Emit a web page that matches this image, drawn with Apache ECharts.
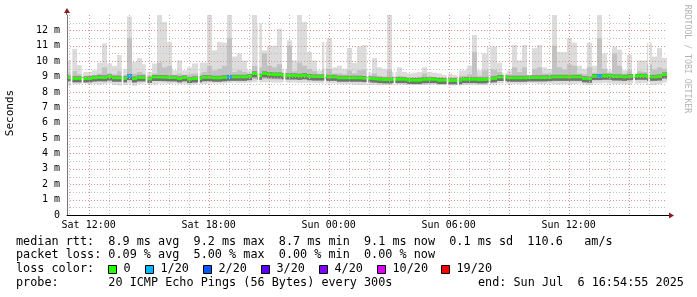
<!DOCTYPE html>
<html><head><meta charset="utf-8">
<script src="https://cdn.jsdelivr.net/npm/echarts@6/dist/echarts.min.js"></script>
<style>html,body{margin:0;padding:0;background:#fff}#c{width:697px;height:297px}</style>
</head><body><div id="c"></div>
<script>
// time in hours since Sat 00:00
const START_H = 10 + 55/60;      // Sat 10:55
const SPAN_H = 30;
const STEP_H = 0.25;             // 15 min buckets
const SAMPLE_H = 5/60;           // 300 s probe step

const medianRtt = [8.94,8.88,8.88,8.87,8.88,8.93,8.95,8.94,9.0,8.92,
 8.92,8.88,9.03,8.87,8.94,8.94,8.85,8.97,8.97,8.96,
 8.94,8.94,8.88,8.94,8.84,8.87,8.88,8.95,8.96,8.92,
 8.92,8.95,8.98,8.98,8.98,8.98,9.02,9.2,9.05,9.2,
 9.15,9.13,9.13,9.08,9.07,9.07,9.05,9.08,9.02,9.0,
 9.0,9.0,8.98,8.98,8.92,8.92,8.92,8.92,8.92,8.9,
 8.88,8.86,8.83,8.81,8.81,8.83,8.83,8.83,8.78,8.77,
 8.77,8.82,8.83,8.83,8.77,8.77,8.75,8.75,8.75,8.83,
 8.83,8.83,8.81,8.81,8.85,8.88,8.97,8.97,8.92,8.92,
 8.92,8.92,8.94,8.94,8.94,8.94,8.96,8.98,8.98,8.98,
 8.98,8.98,8.98,8.88,8.86,9.03,9.03,9.05,9.05,9.0,
 9.0,8.98,9.02,9.04,9.05,9.05,8.98,8.98,9.0,9.13];
const maxRtt = [10.05,10.8,9.75,9.3,9.3,9.4,9.9,11.15,9.85,9.7,
 10.4,9.5,12.9,9.95,10.2,9.8,9.3,9.85,13.0,12.55,
 11.25,9.4,10.05,9.4,9.6,9.85,9.9,9.9,13.0,10.7,
 11.25,11.2,13.0,10.3,10.5,10.05,9.4,13.0,12.45,10.7,
 11.0,11.0,12.1,9.5,11.35,10.05,13.0,12.55,10.6,10.05,
 9.4,11.25,11.5,9.6,9.7,9.5,10.85,9.9,10.95,11.05,
 9.25,10.2,9.6,9.5,13.0,9.3,9.6,9.3,9.2,9.25,
 9.3,9.6,9.3,9.25,9.2,9.1,9.2,9.1,9.4,9.4,
 9.7,11.7,9.4,10.5,10.95,10.95,9.9,9.25,9.4,11.05,
 10.05,11.05,9.1,10.85,11.05,9.6,9.5,13.0,10.6,10.6,
 11.5,11.2,9.7,9.5,11.2,9.7,13.0,10.5,9.4,10.95,
 10.75,9.4,10.4,9.1,10.05,10.05,11.2,10.3,10.85,10.2];
const hiRtt = [9.2,9.35,9.15,9.05,9.05,9.1,9.2,9.6,9.2,9.15,
 9.35,9.1,11.5,9.2,9.3,9.2,9.05,9.2,9.9,9.6,
 9.7,9.1,9.2,9.1,9.15,9.2,9.2,9.3,9.7,9.4,
 9.5,9.7,11.5,9.3,9.4,9.3,9.2,9.7,9.6,10.5,
 9.7,9.6,9.8,9.25,11.0,9.35,9.9,9.7,9.5,9.35,
 9.15,9.5,9.5,9.2,9.2,9.15,9.4,9.2,9.4,9.45,
 9.0,9.2,9.05,9.0,9.4,9.0,9.05,9.0,8.95,8.95,
 9.0,9.2,9.0,8.95,8.95,8.92,8.95,8.92,9.05,9.05,
 9.15,10.6,9.05,9.4,9.5,9.45,9.3,9.1,9.15,9.6,
 9.3,9.6,9.05,9.5,9.6,9.2,9.2,11.0,9.6,9.45,
 9.8,9.7,9.2,9.15,9.6,9.25,11.5,9.5,9.2,10.5,
 9.7,9.2,9.4,9.15,9.35,9.3,9.8,9.45,9.6,9.5];
const loRtt = [8.72,8.7,8.72,8.72,8.7,8.72,8.74,8.72,8.72,8.7,
 8.7,8.7,8.75,8.68,8.72,8.72,8.7,8.74,8.72,8.72,
 8.7,8.72,8.7,8.72,8.68,8.7,8.7,8.74,8.72,8.72,
 8.72,8.74,8.75,8.76,8.76,8.76,8.78,8.82,8.8,8.84,
 8.82,8.82,8.8,8.8,8.78,8.8,8.78,8.8,8.78,8.76,
 8.76,8.76,8.75,8.74,8.72,8.72,8.72,8.7,8.7,8.7,
 8.68,8.66,8.64,8.62,8.62,8.64,8.64,8.64,8.6,8.6,
 8.6,8.62,8.64,8.64,8.6,8.6,8.58,8.58,8.58,8.62,
 8.64,8.64,8.62,8.62,8.66,8.68,8.74,8.74,8.7,8.7,
 8.7,8.7,8.72,8.72,8.72,8.72,8.74,8.74,8.74,8.74,
 8.74,8.74,8.74,8.66,8.64,8.78,8.78,8.8,8.8,8.76,
 8.76,8.74,8.78,8.8,8.8,8.8,8.74,8.74,8.76,8.86];
const minRtt = [8.4,8.5,8.52,8.55,8.5,8.52,8.48,8.52,8.55,8.45,
 8.42,8.45,8.55,8.4,8.52,8.55,8.5,8.48,8.55,8.55,
 8.52,8.55,8.5,8.5,8.45,8.48,8.5,8.52,8.55,8.55,
 8.55,8.55,8.58,8.6,8.58,8.58,8.6,8.62,8.6,8.62,
 8.62,8.6,8.6,8.62,8.6,8.6,8.58,8.6,8.6,8.58,
 8.58,8.55,8.55,8.55,8.52,8.5,8.5,8.48,8.45,8.45,
 8.45,8.45,8.42,8.45,8.45,8.48,8.48,8.45,8.45,8.45,
 8.45,8.45,8.48,8.48,8.45,8.45,8.42,8.42,8.42,8.45,
 8.45,8.48,8.45,8.45,8.5,8.5,8.55,8.55,8.52,8.52,
 8.5,8.52,8.55,8.55,8.52,8.52,8.55,8.5,8.48,8.5,
 8.5,8.52,8.55,8.48,8.45,8.55,8.55,8.58,8.55,8.5,
 8.52,8.5,8.5,8.55,8.55,8.58,8.45,8.45,8.5,8.6];
const lossCount = [0,0,0,0,0,0,0,0,0,0, 0,0,1,0,0,0,0,0,0,0,
 0,0,0,0,0,0,0,0,0,0, 0,0,1,0,0,0,0,0,0,0,
 0,0,0,0,0,0,0,0,0,0, 0,0,0,0,0,0,0,0,0,0,
 0,0,0,0,0,0,0,0,0,0, 0,0,0,0,0,0,0,0,0,0,
 0,0,0,0,0,0,0,0,0,0, 0,0,0,0,0,0,0,0,0,0,
 0,0,0,0,0,0,1,0,0,0, 0,0,0,0,0,0,0,0,0,0];
// missing probe samples (hours since Sat 00:00)
const gapHours = [11.10,11.65,13.65,14.85,17.47,20.45,21.75,23.78,25.90,27.25,29.90,30.43,32.0,32.75,39.23,39.98];

const xLabelHours = [12,18,24,30,36];
const xLabelTexts = ['Sat 12:00','Sat 18:00','Sun 00:00','Sun 06:00','Sun 12:00'];
const yLabelValues = [0,1,2,3,4,5,6,7,8,9,10,11,12];
const yLabelTexts = ['0','1 m','2 m','3 m','4 m','5 m','6 m','7 m','8 m','9 m','10 m','11 m','12 m'];

const lossColors = ['#26ff00','#00b8ff','#0059ff','#5e00ff','#7e00ff','#dd00ff','#ff0000'];
const lossLabels = ['0','1/20','2/20','3/20','4/20','10/20','19/20'];
const lossThresh = [0,1,2,3,4,10,19];

const Y_MAX = 13;
const END_H = START_H + SPAN_H;
const majorX = [], minorX = [];
for (let h = Math.ceil(START_H); h <= END_H; h++) (h % 3 === 0 ? majorX : minorX).push(h);
const majorY = [1,2,3,4,5,6,7,8,9,10,11,12];
const minorY = majorY.map(v => v - 0.5).concat([12.5]);

function lossColor(n){ let c = lossColors[0]; lossThresh.forEach((t,k)=>{ if(n>=t) c = lossColors[k]; }); return c; }

const buckets = medianRtt.map((m,i)=>[START_H + i*STEP_H, minRtt[i], loRtt[i], m, hiRtt[i], maxRtt[i], lossCount[i]]);

const MONO = '"DejaVu Sans Mono", monospace';
const chart = echarts.init(document.getElementById('c'), null, {renderer:'canvas'});

function rect(x0, x1, ya, yb, fill){
  return {type:'rect', shape:{x:x0, y:Math.min(ya,yb), width:x1-x0, height:Math.abs(yb-ya)}, style:{fill:fill}};
}

const legendY = [241.5, 255, 269, 283];
const graphics = [
  {type:'text', x:10, y:113, rotation:Math.PI/2, style:{text:'Seconds', font:'11px '+MONO, fill:'#000', align:'center', verticalAlign:'middle'}},
  {type:'text', x:687, y:59, rotation:-Math.PI/2, style:{text:'RRDTOOL / TOBI OETIKER', font:'8.2px '+MONO, fill:'#b4b4b4', align:'center', verticalAlign:'middle'}},
  {type:'polygon', shape:{points:[[67,8],[64,13],[70,13]]}, style:{fill:'#8b1c1c'}},
  {type:'line', shape:{x1:66.5,y1:13,x2:66.5,y2:15}, style:{stroke:'#777'}},
  {type:'polygon', shape:{points:[[674,215.5],[669,212.5],[669,218.5]]}, style:{fill:'#8b1c1c'}},
  {type:'line', shape:{x1:667,y1:215.5,x2:669,y2:215.5}, style:{stroke:'#000'}},
  {type:'text', x:16, y:legendY[0], style:{text:'median rtt:  8.9 ms avg  9.2 ms max  8.7 ms min  9.1 ms now  0.1 ms sd  110.6   am/s', font:'11.8px '+MONO, fill:'#000', verticalAlign:'middle'}},
  {type:'text', x:16, y:legendY[1], style:{text:'packet loss: 0.09 % avg  5.00 % max  0.00 % min  0.00 % now', font:'11.8px '+MONO, fill:'#000', verticalAlign:'middle'}},
  {type:'text', x:16, y:legendY[2], style:{text:'loss color:', font:'11.8px '+MONO, fill:'#000', verticalAlign:'middle'}},
  {type:'text', x:16, y:legendY[3], style:{text:'probe:       20 ICMP Echo Pings (56 Bytes) every 300s', font:'11.8px '+MONO, fill:'#000', verticalAlign:'middle'}},
  {type:'text', x:478, y:legendY[3], style:{text:'end: Sun Jul  6 16:54:55 2025', font:'11.8px '+MONO, fill:'#000', verticalAlign:'middle'}}
];
const boxX = [108.5,145.5,203.5,261.5,319.5,377.5,441.5];
lossLabels.forEach((lab,k)=>{
  graphics.push({type:'rect', shape:{x:boxX[k], y:265.5, width:8, height:8}, style:{fill:lossColors[k], stroke:'#000', lineWidth:1}});
  graphics.push({type:'text', x:boxX[k]+15, y:legendY[2], style:{text:lab, font:'11.8px '+MONO, fill:'#000', verticalAlign:'middle'}});
});

// crisp dotted grid lines computed through the axis scales
function gridSeries(values, vertical, color, z){
  return {type:'custom', xAxisIndex:0, yAxisIndex:0, z:z, silent:true, clip:false,
    data: values.map(v=>[v]),
    renderItem:(params, api)=>{
      const v = api.value(0);
      let x1,y1,x2,y2;
      if (vertical) {
        const x = Math.round(api.coord([v,0])[0]) + 0.5;
        x1 = x2 = x; y1 = api.coord([v,Y_MAX])[1]; y2 = api.coord([v,0])[1];
      } else {
        const y = Math.round(api.coord([START_H,v])[1]) + 0.5;
        y1 = y2 = y; x1 = api.coord([START_H,v])[0]; x2 = api.coord([END_H,v])[0];
      }
      return {type:'line', shape:{x1,y1,x2,y2}, style:{stroke:color, lineWidth:1, lineDash:[1,2]}};
    }};
}

const option = {
  animation:false,
  backgroundColor:'#fff',
  grid:{left:67, right:30, top:15, bottom:82, containLabel:false},
  xAxis:{type:'value', min:START_H, max:END_H, position:'bottom', z:6,
     axisLine:{show:true, onZero:false, lineStyle:{color:'#000', width:1}},
     axisTick:{show:false},
     axisLabel:{customValues:xLabelHours, formatter:v=>xLabelTexts[xLabelHours.indexOf(v)], fontFamily:MONO, fontSize:10, color:'#000', margin:5},
     splitLine:{show:false}},
  yAxis:{type:'value', min:0, max:Y_MAX, z:6,
     axisLine:{show:true, onZero:false, lineStyle:{color:'#777', width:1}},
     axisTick:{show:false},
     axisLabel:{customValues:yLabelValues, formatter:v=>yLabelTexts[yLabelValues.indexOf(v)], fontFamily:MONO, fontSize:10, color:'#000', margin:7},
     splitLine:{show:false}},
  graphic:graphics,
  series:[
    {type:'custom', xAxisIndex:0, yAxisIndex:0, z:2, clip:true, data:buckets, silent:true,
     renderItem:(params, api)=>{
       const t = api.value(0);
       const x0 = api.coord([t,0])[0], x1 = api.coord([t+STEP_H,0])[0];
       const y = k => api.coord([t, api.value(k)])[1];
       const ym = y(3);
       return {type:'group', children:[
         rect(x0,x1,y(1),y(5),'#dcdcdc'),
         rect(x0,x1,y(2),y(4),'#c2c2c2'),
         rect(x0,x1,ym-2,ym+4,'#727272'),
         rect(x0,x1,ym-1.5,ym+1.5,lossColor(api.value(6)))
       ]};
     }},
    {type:'custom', xAxisIndex:0, yAxisIndex:0, z:3, clip:true, silent:true, data:gapHours.map(h=>[h]),
     renderItem:(params, api)=>{
       const t = api.value(0);
       const a = api.coord([t,0]), b = api.coord([t+SAMPLE_H,Y_MAX]);
       return rect(a[0], b[0], a[1], b[1], '#ffffff');
     }},
    gridSeries(minorX, true, '#c0c0c0', 4),
    gridSeries(minorY, false, '#c0c0c0', 4),
    gridSeries(majorX, true, '#dc9292', 5),
    gridSeries(majorY, false, '#dc9292', 5)
  ]
};
chart.setOption(option);
</script></body></html>
